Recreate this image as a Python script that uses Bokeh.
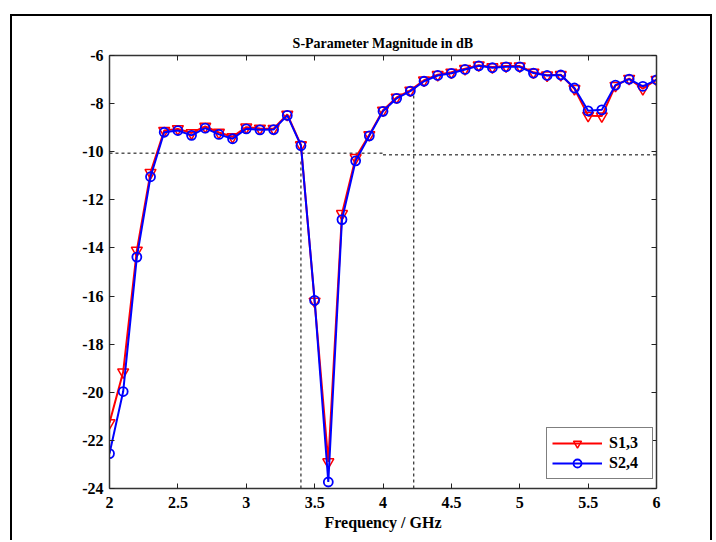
from bokeh.plotting import figure
from bokeh.models import LinearAxis, FixedTicker, Legend, LegendItem
from bokeh.embed import file_html
from bokeh.resources import INLINE

# ---- data ----
freq = [2.0, 2.1, 2.2, 2.3, 2.4, 2.5, 2.6, 2.7, 2.8, 2.9,
        3.0, 3.1, 3.2, 3.3, 3.4, 3.5, 3.6, 3.7, 3.8, 3.9,
        4.0, 4.1, 4.2, 4.3, 4.4, 4.5, 4.6, 4.7, 4.8, 4.9,
        5.0, 5.1, 5.2, 5.3, 5.4, 5.5, 5.6, 5.7, 5.8, 5.9, 6.0]
s13 = [-21.27, -19.16, -14.1, -10.87, -9.12, -9.05, -9.22, -8.95, -9.2, -9.38,
       -8.98, -9.03, -9.04, -8.45, -9.72, -16.22, -22.9, -12.58, -10.25, -9.3,
       -8.28, -7.74, -7.45, -7.03, -6.8, -6.7, -6.55, -6.4, -6.48, -6.44,
       -6.44, -6.7, -6.82, -6.8, -7.38, -8.5, -8.52, -7.25, -6.96, -7.38, -7.0]
s24 = [-22.55, -19.97, -14.38, -11.04, -9.19, -9.12, -9.32, -9.02, -9.28, -9.46,
       -9.05, -9.09, -9.08, -8.49, -9.75, -16.18, -23.73, -12.82, -10.38, -9.34,
       -8.32, -7.78, -7.48, -7.07, -6.83, -6.74, -6.58, -6.43, -6.51, -6.47,
       -6.47, -6.73, -6.83, -6.81, -7.35, -8.3, -8.26, -7.23, -6.98, -7.28, -7.01]

# dashed reference lines
h1_x = [2.0, 4.0]
h1_y = [-10.06, -10.06]
h2_x = [4.0, 6.0]
h2_y = [-10.13, -10.13]
v1_x = [3.4, 3.4]
v1_y = [-24.0, -10.3]
v2_x = [4.225, 4.225]
v2_y = [-24.0, -7.45]

x_ticks = [2, 2.5, 3, 3.5, 4, 4.5, 5, 5.5, 6]
x_labels = ["2", "2.5", "3", "3.5", "4", "4.5", "5", "5.5", "6"]
y_ticks = [-24, -22, -20, -18, -16, -14, -12, -10, -8, -6]
y_labels = ["-24", "-22", "-20", "-18", "-16", "-14", "-12", "-10", "-8", "-6"]

FONT = "Liberation Serif"
FS = "16px"

p = figure(width=702, height=526,
           x_range=(2, 6), y_range=(-24, -6),
           output_backend="svg", toolbar_location=None,
           min_border_left=97, min_border_right=58,
           min_border_top=39, min_border_bottom=54,
           title="S-Parameter Magnitude in dB",
           styles={"margin-left": "10px", "margin-top": "14px",
                   "border-left": "2px solid black",
                   "border-top": "2px solid black",
                   "border-right": "2px solid black"})
p.title.align = "center"
p.title.text_font = FONT
p.title.text_font_size = "14px"
p.title.text_font_style = "bold"
p.title.text_color = "black"

p.xgrid.visible = False
p.ygrid.visible = False
p.outline_line_color = None
p.background_fill_color = "white"
p.border_fill_color = "white"

def style_axis(ax, labels=True):
    ax.axis_line_color = "#333333"
    ax.axis_line_width = 1.5
    ax.major_tick_line_color = "#222222"
    ax.major_tick_line_width = 1
    ax.major_tick_in = 5
    ax.major_tick_out = 0
    ax.minor_tick_in = 0
    ax.minor_tick_out = 0
    ax.major_label_text_font = FONT
    ax.major_label_text_font_style = "bold"
    if labels:
        ax.major_label_text_font_size = FS
        ax.major_label_text_color = "black"
        ax.major_label_standoff = 6
    else:
        ax.major_label_text_font_size = "1px"
        ax.major_label_text_color = None
        ax.major_label_standoff = 0

p.xaxis.ticker = FixedTicker(ticks=x_ticks)
p.yaxis.ticker = FixedTicker(ticks=y_ticks)
p.xaxis.major_label_overrides = dict(zip(x_ticks, x_labels))
p.yaxis.major_label_overrides = dict(zip(y_ticks, y_labels))
style_axis(p.xaxis[0])
style_axis(p.yaxis[0])
p.xaxis.major_label_standoff = 8
p.xaxis.axis_label = "Frequency / GHz"
p.xaxis.axis_label_text_font = FONT
p.xaxis.axis_label_text_font_size = "16px"
p.xaxis.axis_label_text_font_style = "bold"
p.xaxis.axis_label_text_color = "black"
p.xaxis.axis_label_standoff = 3

top = LinearAxis(ticker=FixedTicker(ticks=x_ticks))
style_axis(top, labels=False)
top.major_label_standoff = 5
p.add_layout(top, "above")
right = LinearAxis(ticker=FixedTicker(ticks=y_ticks))
style_axis(right, labels=False)
p.add_layout(right, "right")

# dashed lines
for xs, ys in [(h1_x, h1_y), (h2_x, h2_y), (v1_x, v1_y), (v2_x, v2_y)]:
    p.line(xs, ys, line_color="black", line_width=1, line_dash="3 3")

# series
r1l = p.line(freq, s13, line_color="red", line_width=2)
r1s = p.scatter(freq, s13, marker="inverted_triangle", size=11,
                line_color="red", line_width=1.5, fill_color=None)
r2l = p.line(freq, s24, line_color="blue", line_width=2)
r2s = p.scatter(freq, s24, marker="circle", size=9,
                line_color="blue", line_width=1.8, fill_color=None)

legend = Legend(items=[LegendItem(label="S1,3", renderers=[r1l, r1s]),
                       LegendItem(label="S2,4", renderers=[r2l, r2s])],
                location=(437, 9))
legend.border_line_color = "black"
legend.border_line_width = 1
legend.background_fill_color = "white"
legend.background_fill_alpha = 1
legend.label_text_font = FONT
legend.label_text_font_size = FS
legend.label_text_font_style = "bold"
legend.label_text_color = "black"
legend.glyph_width = 50
legend.glyph_height = 20
legend.label_height = 20
legend.label_width = 38
legend.label_standoff = 7
legend.spacing = 0
legend.padding = 5
legend.margin = 0
p.add_layout(legend, "center")

open("out.html", "w").write(file_html(p, INLINE))
